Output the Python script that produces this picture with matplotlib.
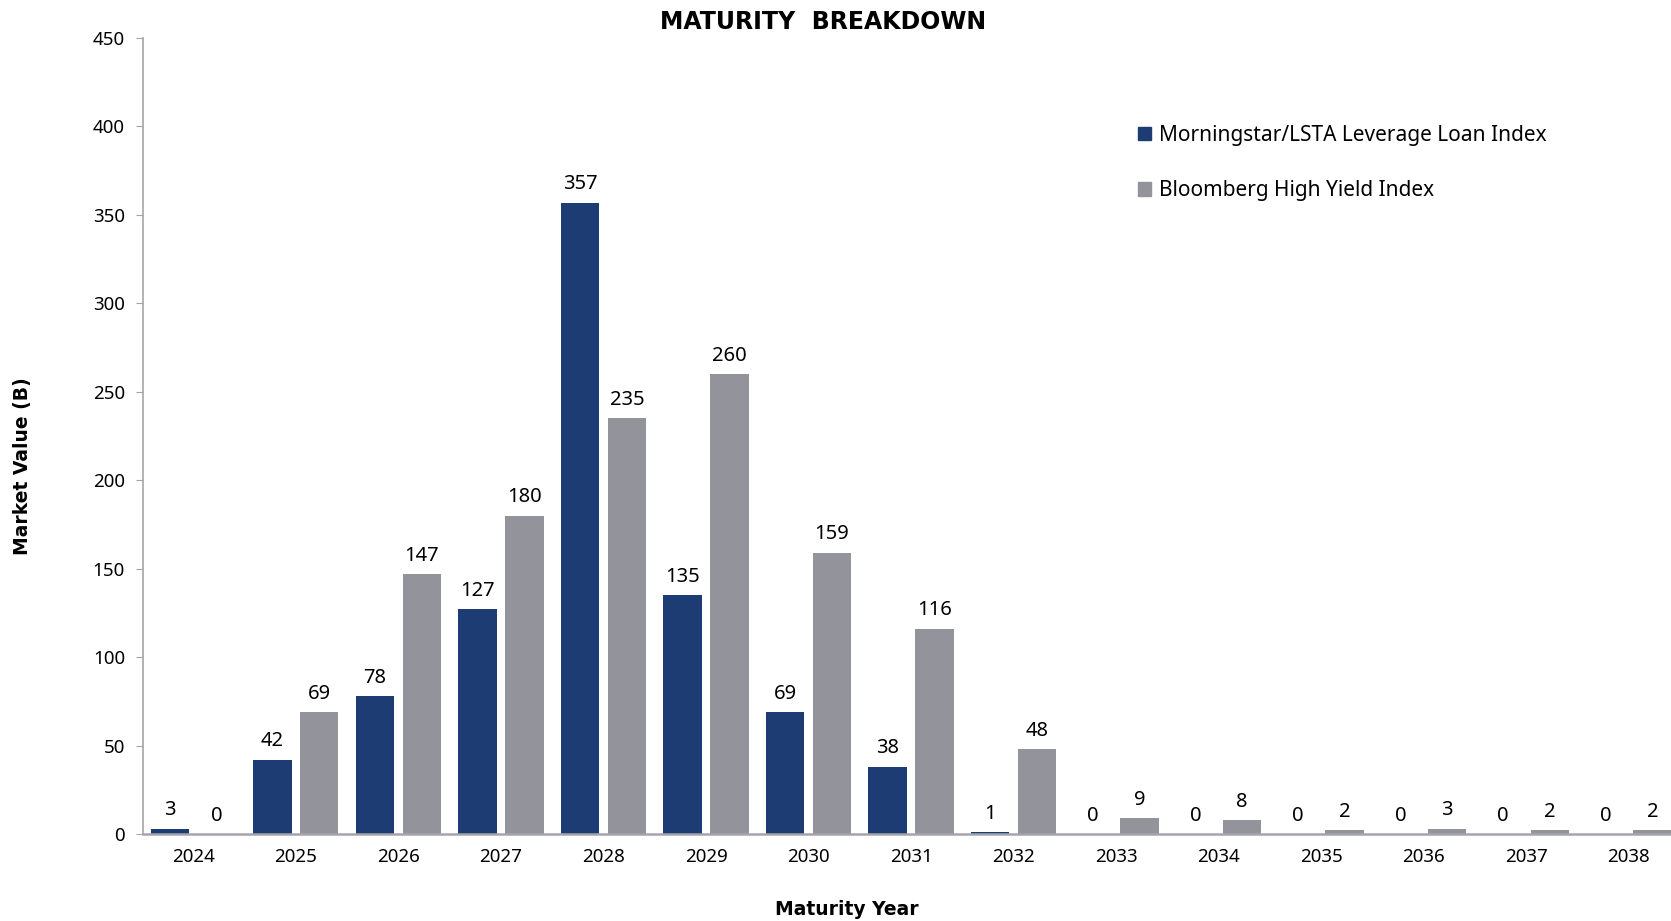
import matplotlib
matplotlib.use("Agg")
import matplotlib.pyplot as plt
import numpy as np
from matplotlib.patches import Patch

years = ["2024", "2025", "2026", "2027", "2028", "2029", "2030", "2031",
         "2032", "2033", "2034", "2035", "2036", "2037", "2038"]
loan_index = [3, 42, 78, 127, 357, 135, 69, 38, 1, 0, 0, 0, 0, 0, 0]
hy_index = [0, 69, 147, 180, 235, 260, 159, 116, 48, 9, 8, 2, 3, 2, 2]
series_names = ["Morningstar/LSTA Leverage Loan Index", "Bloomberg High Yield Index"]
yticks = [0, 50, 100, 150, 200, 250, 300, 350, 400, 450]

BLUE = "#1E3C74"
GRAY = "#93939C"
SPINE = "#A4A4AC"

plt.rcParams['font.family'] = ['Noto Sans', 'DejaVu Sans']

fig = plt.figure(figsize=(16.71, 9.21), dpi=100)
ax = fig.add_axes([143/1671, 1-834/921, 1-143/1671, (834-38)/921])

x = np.arange(len(years))
w = 0.375
off = 0.228
b1 = ax.bar(x - off, loan_index, w, color=BLUE, label=series_names[0])
b2 = ax.bar(x + off, hy_index, w, color=GRAY, label=series_names[1])

for bars, vals in ((b1, loan_index), (b2, hy_index)):
    for r, v in zip(bars, vals):
        ax.annotate(f"{v}", (r.get_x() + r.get_width()/2, v),
                    xytext=(0, 6), textcoords="offset points",
                    ha="center", va="bottom", fontsize=14.5, color="black")

ax.set_xlim(-0.49, 14.41)
ax.set_ylim(0, 450)
ax.set_yticks(yticks)
ax.set_xticks(x)
ax.set_xticklabels(years)
ax.tick_params(axis='y', length=5, color=SPINE, labelsize=13.5, pad=8, direction='out')
ax.tick_params(axis='x', length=0, labelsize=13.5, pad=10)

for s in ("top", "right"):
    ax.spines[s].set_visible(False)
ax.spines["left"].set_color(SPINE)
ax.spines["bottom"].set_color(SPINE)
ax.spines["left"].set_linewidth(1.2)
ax.spines["bottom"].set_linewidth(1.8)

fig.text(823/1671, 1-22/921, "MATURITY  BREAKDOWN", ha="center", va="center",
         fontsize=17, fontweight="bold", family="DejaVu Sans")
fig.text(23/1671, 1-466/921, "Market Value (B)", rotation=90, ha="center", va="center",
         fontsize=13.5, fontweight="bold", family="DejaVu Sans")
fig.text(847/1671, 1-909/921, "Maturity Year", ha="center", va="center",
         fontsize=13.5, fontweight="bold", family="DejaVu Sans")

handles = [Patch(color=BLUE), Patch(color=GRAY)]
ax.legend(handles, series_names, loc="upper left", bbox_to_anchor=(1138/1671, 1-125/921),
          bbox_transform=fig.transFigure, frameon=False, fontsize=15.0,
          handlelength=0.6, handleheight=0.6, handletextpad=0.4, labelspacing=1.65,
          borderaxespad=0, borderpad=0)

fig.savefig("out.png", dpi=100)
